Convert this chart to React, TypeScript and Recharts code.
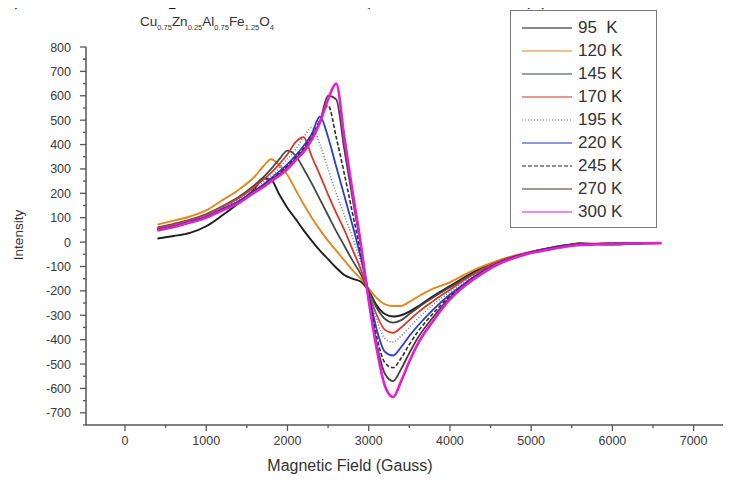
import { Line, LineChart, XAxis, YAxis } from 'recharts'

// field grid (Gauss) shared by every temperature trace
const fieldGauss = [400, 600, 800, 1000, 1200, 1400, 1600, 1700, 1800, 1900, 2000, 2100, 2200, 2300, 2400, 2500, 2600, 2700, 2800, 2900, 3000, 3100, 3200, 3300, 3400, 3500, 3600, 3800, 4000, 4200, 4400, 4600, 4800, 5000, 5200, 5400, 5600, 5800, 6000, 6200, 6400, 6600]

const t95 = [15, 25, 38, 65, 110, 160, 220, 262, 255, 195, 140, 95, 48, 5, -35, -70, -105, -135, -150, -162, -200, -260, -295, -305, -300, -285, -265, -220, -180, -140, -105, -78, -58, -42, -28, -15, -5, -8, -10, -8, -6, -4]
const t120 = [72, 88, 105, 130, 172, 215, 270, 310, 340, 315, 275, 215, 155, 100, 50, 5, -35, -75, -115, -150, -190, -230, -255, -262, -262, -245, -225, -190, -165, -130, -100, -75, -55, -40, -28, -16, -8, -6, -5, -4, -3, -3]
const t145 = [60, 75, 92, 115, 148, 185, 235, 265, 300, 340, 375, 355, 300, 240, 175, 110, 45, -15, -75, -130, -200, -270, -315, -330, -320, -295, -270, -225, -185, -145, -110, -80, -58, -40, -26, -14, -8, -7, -6, -5, -4, -3]
const t170 = [58, 72, 90, 112, 145, 180, 228, 255, 285, 320, 360, 410, 430, 350, 275, 195, 120, 50, -30, -110, -210, -300, -360, -372, -350, -320, -290, -240, -195, -150, -112, -80, -57, -40, -26, -14, -8, -7, -6, -5, -4, -3]
const t195 = [55, 70, 88, 110, 140, 175, 220, 245, 272, 305, 340, 380, 430, 470, 400, 300, 200, 110, 20, -80, -200, -320, -395, -410, -385, -350, -315, -255, -205, -158, -116, -82, -58, -40, -26, -14, -8, -7, -6, -5, -4, -3]
const t220 = [52, 66, 84, 105, 136, 168, 212, 235, 262, 290, 320, 355, 395, 445, 515, 430, 310, 190, 70, -60, -210, -360, -450, -465, -430, -385, -345, -275, -215, -165, -120, -85, -60, -42, -27, -15, -9, -7, -6, -5, -4, -3]
const t245 = [50, 64, 82, 103, 133, 165, 210, 232, 258, 283, 312, 348, 385, 435, 500, 560, 430, 280, 120, -40, -220, -390, -495, -515, -475, -420, -370, -290, -222, -168, -122, -86, -60, -42, -27, -15, -9, -7, -6, -5, -4, -3]
const t270 = [50, 63, 82, 102, 132, 162, 208, 230, 255, 278, 307, 342, 378, 428, 495, 600, 585, 380, 180, -10, -230, -420, -540, -570, -520, -455, -395, -305, -228, -172, -125, -88, -62, -43, -29, -17, -10, -8, -6, -5, -4, -3]
const t300 = [48, 62, 80, 100, 130, 160, 205, 225, 250, 272, 300, 335, 370, 420, 490, 585, 650, 430, 210, 0, -240, -440, -590, -635, -570, -490, -420, -320, -235, -175, -128, -90, -64, -45, -32, -20, -12, -10, -8, -6, -5, -4]

const seriesLabels = ['95  K', '120 K', '145 K', '170 K', '195 K', '220 K', '245 K', '270 K', '300 K']
const xTicks = [0, 1000, 2000, 3000, 4000, 5000, 6000, 7000]
const yTicks = [-700, -600, -500, -400, -300, -200, -100, 0, 100, 200, 300, 400, 500, 600, 700, 800]

const series = [
  { key: 't95', values: t95, color: '#1e1e1e', dash: undefined, width: 1.9 },
  { key: 't120', values: t120, color: '#e0891c', dash: undefined, width: 1.9 },
  { key: 't145', values: t145, color: '#3f4b47', dash: undefined, width: 1.8 },
  { key: 't170', values: t170, color: '#d63a2c', dash: undefined, width: 1.8 },
  { key: 't195', values: t195, color: '#7a7a7a', dash: '1 2', width: 1.6 },
  { key: 't220', values: t220, color: '#2b3ccf', dash: undefined, width: 1.8 },
  { key: 't245', values: t245, color: '#2e2e2e', dash: '4 2', width: 1.6 },
  { key: 't270', values: t270, color: '#4d3c36', dash: undefined, width: 1.8 },
  { key: 't300', values: t300, color: '#e21fd4', dash: undefined, width: 2.6 },
]

const rows = fieldGauss.map((field, i) => {
  const row: Record<string, number> = { field }
  series.forEach((s) => {
    row[s.key] = s.values[i]
  })
  return row
})

const AXIS_X = 86
const AXIS_Y = 425
const FONT = '"Liberation Sans", Arial, sans-serif'
const SERIF = '"Liberation Serif", "Times New Roman", serif'
const TICK_COLOR = '#3a3a3a'

// minor ticks sit halfway between the labelled ones
const yAll = [...yTicks, ...yTicks.map((v) => v - 50), 750].sort((a, b) => a - b)
const xAll = [...xTicks, ...xTicks.map((v) => v + 500)].filter((v) => v < 7400)

function YTick(props: any) {
  const { y, payload } = props
  const major = payload.value % 100 === 0
  return (
    <g>
      <line x1={AXIS_X - (major ? 6 : 3)} x2={AXIS_X} y1={y} y2={y} stroke="#555" strokeWidth={1.3} />
      {major && (
        <text x={AXIS_X - 15} y={y + 4.5} textAnchor="end" fontSize={12.5} fontFamily={FONT} fill={TICK_COLOR}>
          {payload.value}
        </text>
      )}
    </g>
  )
}

function XTick(props: any) {
  const { x, payload } = props
  const major = payload.value % 1000 === 0
  return (
    <g>
      <line x1={x} x2={x} y1={AXIS_Y} y2={AXIS_Y + (major ? 6 : 3)} stroke="#555" strokeWidth={1.3} />
      {major && (
        <text x={x} y={AXIS_Y + 20} textAnchor="middle" fontSize={12.5} fontFamily={FONT} fill={TICK_COLOR}>
          {payload.value}
        </text>
      )}
    </g>
  )
}

function Legend() {
  return (
    <div
      style={{
        position: 'absolute',
        left: 510,
        top: 10,
        width: 145,
        height: 216,
        border: '1.5px solid #7a7a7a',
        background: '#fff',
        fontFamily: FONT,
      }}
    >
      {series.map((s, i) => (
        <div key={s.key} style={{ position: 'absolute', left: 11, top: 6 + i * 23, height: 22, display: 'flex', alignItems: 'center' }}>
          <svg width={50} height={6}>
            <line x1={0} x2={50} y1={3} y2={3} stroke={s.color} strokeWidth={1.3} strokeDasharray={s.dash} opacity={0.7} />
          </svg>
          <span style={{ marginLeft: 6, fontSize: 17, color: '#333', whiteSpace: 'pre' }}>{seriesLabels[i]}</span>
        </div>
      ))}
    </div>
  )
}

const sub = { fontSize: 7.5, verticalAlign: 'sub' as const }

// caption line of the source figure, cut off by the top edge
function Caption() {
  const main = { fontFamily: SERIF, fontSize: 26, fill: '#111' }
  const small = { fontFamily: SERIF, fontSize: 15, fontStyle: 'italic', fill: '#111' }
  return (
    <svg width={731} height={12} style={{ position: 'absolute', left: 0, top: 0 }}>
      <text x={-6} y={4} {...main} fontWeight="bold">(c)</text>
      <text x={100} y={4} {...main} fontWeight="bold">EPR spectra</text>
      <text x={362} y={4} {...main}>(Cu</text>
      <text x={401} y={7} {...small}>0.75</text>
      <text x={440} y={4} {...main}>Zn</text>
      <text x={494} y={7} {...small}>0.35</text>
      <text x={527} y={4} {...main}>)(Al</text>
      <text x={618} y={7} {...small}>0.75</text>
      <text x={652} y={4} {...main}>Fe</text>
      <text x={695} y={7} {...small}>1.35</text>
    </svg>
  )
}

export default function App() {
  return (
    <div style={{ position: 'relative', width: 731, height: 495, margin: -8, overflow: 'hidden', background: '#fff' }}>
      <div style={{ position: 'absolute', left: 140, top: 14, fontFamily: FONT, fontSize: 13.5, color: '#333' }}>
        Cu<span style={sub}>0.75</span>Zn<span style={sub}>0.25</span>Al<span style={sub}>0.75</span>Fe
        <span style={sub}>1.25</span>O<span style={sub}>4</span>
      </div>

      <div style={{ position: 'absolute', left: 0, top: 0 }}>
        <LineChart width={731} height={495} data={rows} margin={{ top: 47, right: 0, bottom: 0, left: 0 }}>
          <XAxis
            dataKey="field"
            type="number"
            domain={[-480, 7460]}
            allowDataOverflow
            ticks={xAll}
            interval={0}
            tick={<XTick />}
            tickLine={false}
            axisLine={{ stroke: '#555', strokeWidth: 1.5 }}
            height={70}
          />
          <YAxis
            type="number"
            domain={[-750, 800]}
            allowDataOverflow
            ticks={yAll}
            interval={0}
            tick={<YTick />}
            tickLine={false}
            axisLine={{ stroke: '#555', strokeWidth: 1.5 }}
            width={86}
          />
          {series.map((s) => (
            <Line
              key={s.key}
              type="monotone"
              dataKey={s.key}
              stroke={s.color}
              strokeWidth={s.width}
              strokeDasharray={s.dash}
              dot={false}
              activeDot={false}
              isAnimationActive={false}
            />
          ))}
        </LineChart>
      </div>

      <div
        style={{
          position: 'absolute',
          left: 242,
          top: 457,
          width: 216,
          textAlign: 'center',
          fontFamily: FONT,
          fontSize: 16,
          color: '#333',
          whiteSpace: 'nowrap',
        }}
      >
        Magnetic Field (Gauss)
      </div>

      <div
        style={{
          position: 'absolute',
          left: 18,
          top: 235,
          transform: 'translate(-50%, -50%) rotate(-90deg)',
          fontFamily: FONT,
          fontSize: 13.5,
          color: '#333',
          whiteSpace: 'nowrap',
        }}
      >
        Intensity
      </div>

      <Legend />
      <Caption />
    </div>
  )
}
